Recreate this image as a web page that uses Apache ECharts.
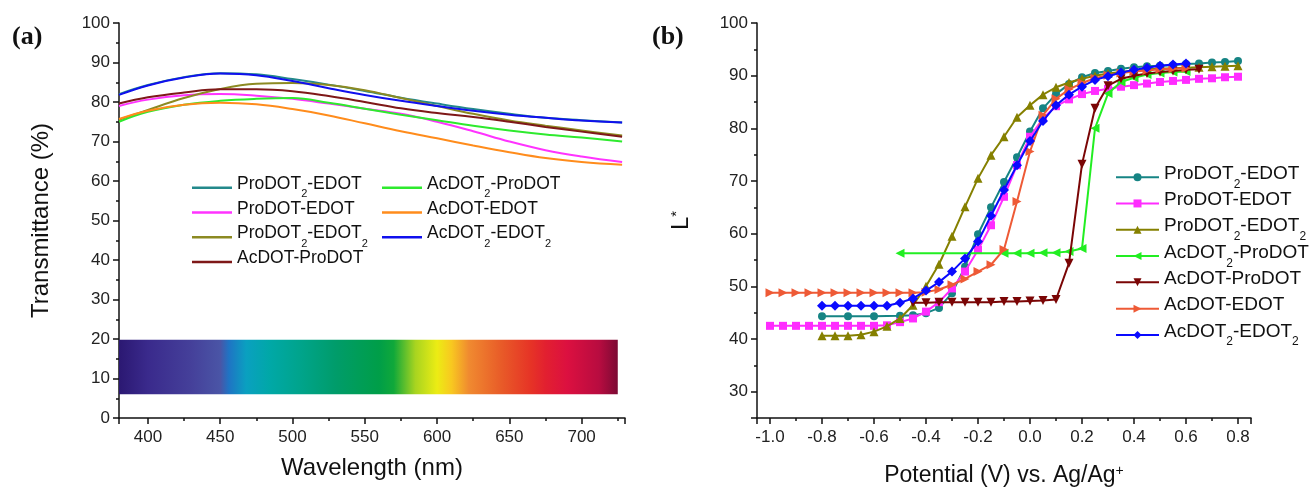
<!DOCTYPE html>
<html><head><meta charset="utf-8">
<script src="https://cdn.jsdelivr.net/npm/echarts@6/dist/echarts.min.js"></script>
<style>html,body{margin:0;padding:0;background:#fff}#c{width:1311px;height:489px}</style>
</head><body><div id="c"></div>
<script>
// ---------- Panel (a): transmittance spectra ----------
const wavelengths = [380,400,425,450,475,500,525,550,575,600,625,650,675,700,728];
const tProDOT2_EDOT  = [82.0,84.3,86.3,87.3,87.0,85.8,84.4,82.8,81.1,79.6,78.2,77.0,76.0,75.4,74.8];
const tProDOT_EDOT   = [79.0,80.6,81.7,82.0,81.6,80.8,79.6,78.3,77.0,75.0,72.6,70.0,67.8,66.2,64.8];
const tProDOT2_EDOT2 = [75.5,78.0,81.0,83.3,84.6,84.8,84.3,83.0,81.0,79.0,77.0,75.3,74.0,72.8,71.5];
const tAcDOT_ProDOT  = [79.6,81.2,82.4,83.2,83.2,82.7,81.5,80.0,78.4,77.2,76.2,75.0,73.7,72.5,71.2];
const tAcDOT2_ProDOT = [75.0,77.5,79.3,80.3,80.8,81.0,79.8,78.3,76.8,75.4,74.0,72.8,71.8,71.0,70.0];
const tAcDOT_EDOT    = [75.7,77.8,79.3,79.8,79.4,78.2,76.6,74.6,72.6,70.8,69.0,67.3,65.8,64.8,64.1];
const tAcDOT2_EDOT2  = [81.8,84.2,86.2,87.2,86.8,85.3,83.5,81.8,80.3,79.0,77.8,76.8,76.0,75.3,74.8];
const spectrumBand = {x0: 380, x1: 725, y0: 6, y1: 19.8};
const spectrumStops = [[380,'#2b1872'],[400,'#3a2a8c'],[430,'#45409a'],[450,'#4a55a6'],[456,'#1f74c4'],[468,'#0aa0c0'],[485,'#00a8a6'],[505,'#00a48c'],[530,'#009c6a'],[560,'#009e48'],[570,'#10a83a'],[585,'#a8d420'],[600,'#ecec14'],[610,'#f8c820'],[622,'#f08a30'],[645,'#e85a28'],[665,'#e63326'],[675,'#e22030'],[690,'#dc1040'],[712,'#b80c40'],[725,'#7c0a34']];

// ---------- Panel (b): L* vs potential ----------
const vProDOT2_EDOT = [-0.8,-0.7,-0.6,-0.5,-0.45,-0.4,-0.35,-0.3,-0.25,-0.2,-0.15,-0.1,-0.05,0,0.05,0.1,0.15,0.2,0.25,0.3,0.35,0.4,0.45,0.5,0.55,0.6,0.65,0.7,0.75,0.8];
const lProDOT2_EDOT = [44.3,44.3,44.3,44.4,44.5,44.9,45.9,48.7,53.7,59.9,65.0,69.8,74.5,79.4,83.8,86.5,88.4,89.7,90.5,90.9,91.3,91.6,91.8,91.9,92.0,92.2,92.3,92.5,92.6,92.8];
const vProDOT_EDOT = [-1.0,-0.95,-0.9,-0.85,-0.8,-0.75,-0.7,-0.65,-0.6,-0.55,-0.5,-0.45,-0.4,-0.35,-0.3,-0.25,-0.2,-0.15,-0.1,-0.05,0,0.05,0.1,0.15,0.2,0.25,0.3,0.35,0.4,0.45,0.5,0.55,0.6,0.65,0.7,0.75,0.8];
const lProDOT_EDOT = [42.5,42.5,42.5,42.5,42.5,42.5,42.5,42.5,42.5,42.6,43.2,43.9,45.2,47.0,49.6,52.8,56.9,61.6,67.0,73.0,78.4,81.9,84.2,85.5,86.5,87.1,87.5,87.9,88.2,88.5,88.8,89.0,89.2,89.4,89.5,89.7,89.8];
const vProDOT2_EDOT2 = [-0.8,-0.75,-0.7,-0.65,-0.6,-0.55,-0.5,-0.45,-0.4,-0.35,-0.3,-0.25,-0.2,-0.15,-0.1,-0.05,0,0.05,0.1,0.15,0.2,0.25,0.3,0.35,0.4,0.45,0.5,0.55,0.6,0.65,0.7,0.75,0.8];
const lProDOT2_EDOT2 = [40.6,40.6,40.6,40.8,41.4,42.4,43.9,46.4,50.0,54.2,59.5,65.1,70.5,74.9,78.4,82.1,84.4,86.4,87.8,88.7,89.4,90.0,90.4,90.7,91.0,91.2,91.3,91.4,91.5,91.6,91.7,91.8,91.9];
const vAcDOT2_ProDOT = [-0.5,-0.1,-0.05,0,0.05,0.1,0.15,0.2,0.25,0.3,0.35,0.4,0.45,0.5,0.55,0.6];
const lAcDOT2_ProDOT = [56.3,56.3,56.3,56.3,56.4,56.4,56.6,57.2,80.0,86.6,88.8,89.6,90.2,90.5,90.7,90.8];
const vAcDOT_ProDOT = [-0.45,-0.4,-0.35,-0.3,-0.25,-0.2,-0.15,-0.1,-0.05,0,0.05,0.1,0.15,0.2,0.25,0.3,0.35,0.4,0.45,0.5,0.55,0.6,0.65];
const lAcDOT_ProDOT = [46.9,46.9,47.0,47.0,47.0,47.0,47.0,47.1,47.1,47.2,47.3,47.5,54.4,73.2,83.8,88.1,89.4,90.0,90.4,90.7,90.9,91.1,91.2];
const vAcDOT_EDOT = [-1.0,-0.95,-0.9,-0.85,-0.8,-0.75,-0.7,-0.65,-0.6,-0.55,-0.5,-0.45,-0.4,-0.35,-0.3,-0.25,-0.2,-0.15,-0.1,-0.05,0,0.05,0.1,0.15,0.2,0.25,0.3,0.35,0.4,0.45,0.5,0.55,0.6];
const lAcDOT_EDOT = [48.8,48.8,48.8,48.8,48.8,48.8,48.8,48.8,48.8,48.8,48.8,48.8,48.9,49.4,50.3,51.4,52.8,54.1,57.0,66.1,75.6,82.5,85.6,87.4,88.6,89.5,90.1,90.5,90.8,91.0,91.2,91.3,91.4];
const vAcDOT2_EDOT2 = [-0.8,-0.75,-0.7,-0.65,-0.6,-0.55,-0.5,-0.45,-0.4,-0.35,-0.3,-0.25,-0.2,-0.15,-0.1,-0.05,0,0.05,0.1,0.15,0.2,0.25,0.3,0.35,0.4,0.45,0.5,0.55,0.6];
const lAcDOT2_EDOT2 = [46.3,46.3,46.3,46.3,46.3,46.3,46.9,47.7,49.2,50.8,52.8,55.3,58.5,63.4,68.3,73.0,77.6,81.4,84.4,86.4,87.9,89.2,89.9,90.6,91.1,91.5,91.9,92.1,92.3];

const FONT = "'Liberation Sans', Arial, sans-serif";
const zip = (a, b) => a.map((v, i) => [v, b[i]]);
const TAG = '\u200b';

function richName(name) {
  const clean = name.replace(/\u200b/g, '');
  const parts = clean.split('2');
  let out = '';
  parts.forEach((p, i) => {
    if (p) out += '{n|' + p + '}';
    if (i < parts.length - 1) out += '{s|2}';
  });
  if (parts.length === 1) out += '{s|\u2009}';
  return out;
}

const leftLines = [
  ['ProDOT2-EDOT', tProDOT2_EDOT, '#23898b'],
  ['ProDOT-EDOT', tProDOT_EDOT, '#ff33ff'],
  ['ProDOT2-EDOT2', tProDOT2_EDOT2, '#8c8a22'],
  ['AcDOT-ProDOT', tAcDOT_ProDOT, '#7e1818'],
  ['AcDOT2-ProDOT', tAcDOT2_ProDOT, '#2eea2e'],
  ['AcDOT-EDOT', tAcDOT_EDOT, '#ff8c1c'],
  ['AcDOT2-EDOT2', tAcDOT2_EDOT2, '#1010ee']
];
const rightLines = [
  ['ProDOT2-EDOT', vProDOT2_EDOT, lProDOT2_EDOT, '#168484', 'circle', 0, 8],
  ['ProDOT-EDOT', vProDOT_EDOT, lProDOT_EDOT, '#ff2cff', 'rect', 0, 8],
  ['ProDOT2-EDOT2', vProDOT2_EDOT2, lProDOT2_EDOT2, '#858000', 'triangle', 0, 9],
  ['AcDOT2-ProDOT', vAcDOT2_ProDOT, lAcDOT2_ProDOT, '#22ee22', 'triangle', 90, 9],
  ['AcDOT-ProDOT', vAcDOT_ProDOT, lAcDOT_ProDOT, '#7a0505', 'triangle', 180, 9],
  ['AcDOT-EDOT', vAcDOT_EDOT, lAcDOT_EDOT, '#ee5a36', 'triangle', -90, 9],
  ['AcDOT2-EDOT2', vAcDOT2_EDOT2, lAcDOT2_EDOT2, '#0a0aff', 'diamond', 0, 10]
];

const span = spectrumBand.x1 - spectrumBand.x0;
const gradient = {
  type: 'linear', x: 0, y: 0, x2: 1, y2: 0,
  colorStops: spectrumStops.map(s => ({offset: (s[0] - spectrumBand.x0) / span, color: s[1]}))
};

const series = [];
leftLines.forEach((d, i) => {
  const s = {
    name: d[0], type: 'line', xAxisIndex: 0, yAxisIndex: 0,
    data: zip(wavelengths, d[1]), smooth: 0.4, symbol: 'none',
    lineStyle: {color: d[2], width: 2}, itemStyle: {color: d[2]},
    z: 3 + i, silent: true
  };
  if (i === 0) {
    s.markArea = {
      silent: true,
      itemStyle: {color: gradient, opacity: 1, borderWidth: 0},
      data: [[{coord: [spectrumBand.x0, spectrumBand.y0]}, {coord: [spectrumBand.x1, spectrumBand.y1]}]]
    };
  }
  series.push(s);
});
rightLines.forEach((d, i) => {
  series.push({
    name: d[0] + TAG, type: 'line', xAxisIndex: 1, yAxisIndex: 1,
    data: zip(d[1], d[2]), symbol: d[4], symbolRotate: d[5], symbolSize: d[6],
    showAllSymbol: true,
    lineStyle: {color: d[3], width: 2}, itemStyle: {color: d[3]},
    z: 3 + i, silent: true
  });
});

const legendText = (size, lh) => ({
  fontFamily: FONT, color: '#111',
  rich: {
    n: {fontSize: size, fontFamily: FONT, color: '#111', lineHeight: lh, verticalAlign: 'top'},
    s: {fontSize: Math.round(size * 0.62), fontFamily: FONT, color: '#111', lineHeight: 12, padding: [lh - 12, 0, 0, 0], verticalAlign: 'top'}
  }
});

const axisCommon = {
  axisLine: {show: true, onZero: false, lineStyle: {color: '#111', width: 1.5}},
  axisTick: {show: true, inside: false, length: 6, lineStyle: {color: '#111', width: 1.5}},
  minorTick: {show: true, splitNumber: 2, length: 3, lineStyle: {color: '#111', width: 1.5}},
  splitLine: {show: false},
  axisLabel: {color: '#222', fontSize: 17, fontFamily: FONT}
};
function ax(extra) {
  const o = JSON.parse(JSON.stringify(axisCommon));
  Object.keys(extra).forEach(k => {
    if (o[k] && typeof o[k] === 'object' && typeof extra[k] === 'object') Object.assign(o[k], extra[k]);
    else o[k] = extra[k];
  });
  return o;
}

const option = {
  animation: false,
  backgroundColor: '#fff',
  textStyle: {fontFamily: FONT},
  grid: [
    {left: 119, top: 23, width: 506, height: 395, containLabel: false, outerBoundsMode: 'none'},
    {left: 757, top: 23, width: 494, height: 395, containLabel: false, outerBoundsMode: 'none'}
  ],
  xAxis: [
    ax({type: 'value', gridIndex: 0, min: 380, max: 730, minInterval: 50, maxInterval: 50, splitNumber: 7,
        axisLabel: {showMinLabel: false, showMaxLabel: false, margin: 11},
        name: 'Wavelength (nm)', nameLocation: 'middle', nameGap: 38,
        nameTextStyle: {fontSize: 24, color: '#111', fontFamily: FONT}}),
    ax({type: 'value', gridIndex: 1, min: -1.05, max: 0.85, minInterval: 0.2, maxInterval: 0.2, splitNumber: 9,
        axisLabel: {showMinLabel: false, showMaxLabel: false, margin: 11, formatter: v => v.toFixed(1)},
        name: 'Potential (V) vs. Ag/Ag{sup|+}', nameLocation: 'middle', nameGap: 46,
        nameTextStyle: {fontSize: 23, color: '#111', fontFamily: FONT,
          rich: {sup: {fontSize: 14, fontFamily: FONT, color: '#111', verticalAlign: 'top', lineHeight: 12, padding: [0,0,12,0]}}}})
  ],
  yAxis: [
    ax({type: 'value', gridIndex: 0, min: 0, max: 100, interval: 10,
        axisLabel: {margin: 9},
        name: 'Transmittance (%)', nameLocation: 'middle', nameGap: 66,
        nameTextStyle: {fontSize: 24, color: '#111', fontFamily: FONT}}),
    ax({type: 'value', gridIndex: 1, min: 25, max: 100, minInterval: 10, maxInterval: 10, splitNumber: 8,
        axisLabel: {showMinLabel: false, margin: 9},
        name: 'L{sup|*}', nameLocation: 'middle', nameGap: 64,
        nameTextStyle: {fontSize: 24, color: '#111', fontFamily: FONT,
          rich: {sup: {fontSize: 15, fontFamily: FONT, color: '#111', verticalAlign: 'top', lineHeight: 12, padding: [0,0,12,0]}}}})
  ],
  legend: [
    {data: ['ProDOT2-EDOT','ProDOT-EDOT','ProDOT2-EDOT2','AcDOT-ProDOT'], orient: 'vertical', left: 187, top: 170,
     icon: 'rect', itemWidth: 40, itemHeight: 2.5, itemGap: 0, formatter: richName, textStyle: legendText(17.5, 25.7), selectedMode: false},
    {data: ['AcDOT2-ProDOT','AcDOT-EDOT','AcDOT2-EDOT2'], orient: 'vertical', left: 377, top: 170,
     icon: 'rect', itemWidth: 40, itemHeight: 2.5, itemGap: 0, formatter: richName, textStyle: legendText(17.5, 25.7), selectedMode: false},
    {data: rightLines.map(d => d[0] + TAG), orient: 'vertical', left: 1110, top: 159,
     itemWidth: 43, itemHeight: 10, itemGap: 0, formatter: richName, textStyle: legendText(19, 26.3), selectedMode: false}
  ],
  graphic: [
    {type: 'text', left: 12, top: 24, style: {text: '(a)', font: "bold 26px 'Liberation Serif', 'Times New Roman', serif", fill: '#111'}},
    {type: 'text', left: 652, top: 24, style: {text: '(b)', font: "bold 26px 'Liberation Serif', 'Times New Roman', serif", fill: '#111'}}
  ],
  series: series
};

const chart = echarts.init(document.getElementById('c'), null, {renderer: 'canvas'});
chart.setOption(option);
</script>
</body></html>
